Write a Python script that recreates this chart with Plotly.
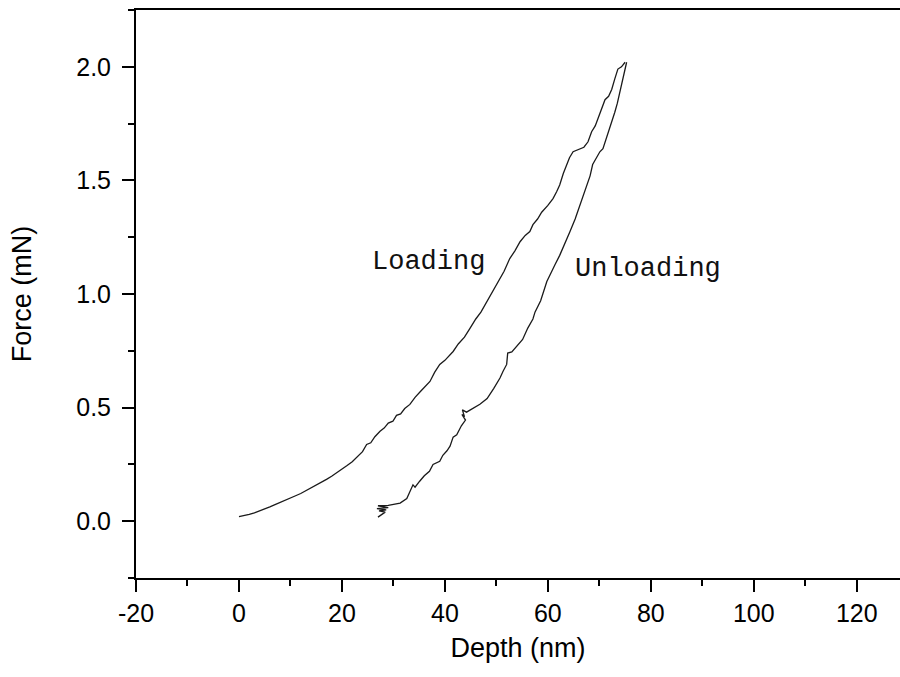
import plotly.graph_objects as go

# Loading curve (depth nm, force mN)
load_depth = [0, 1, 2, 3, 4, 5, 6, 7, 8, 9, 10, 11, 12, 13, 14, 15, 16, 17, 18, 19,
              20, 21, 22, 23, 24, 24.8, 25.6, 26.4, 27.4, 28.2, 29.0, 29.9, 30.6, 31.4,
              32.2, 33.2, 34.2, 35.2, 36.1, 37.1, 38.0, 39.0, 40.0, 40.8, 41.6, 42.6,
              43.8, 44.9, 46.0, 47.0, 48.2, 49.3, 50.3, 51.5, 52.6, 53.6, 54.6, 55.6,
              56.5, 57.1, 58.0, 58.8, 60.0, 61.0, 61.7, 62.3, 63.0, 63.6, 64.2, 64.9,
              66.0, 67.0, 67.8, 68.5, 69.2, 69.7, 70.4, 71.1, 71.8, 72.4, 73.0, 73.6,
              74.3, 75.0]
load_force = [0.020, 0.024, 0.030, 0.037, 0.045, 0.054, 0.063, 0.073, 0.082, 0.091,
              0.100, 0.112, 0.122, 0.134, 0.145, 0.157, 0.170, 0.184, 0.198, 0.213,
              0.228, 0.245, 0.262, 0.284, 0.306, 0.338, 0.345, 0.372, 0.396, 0.410,
              0.432, 0.440, 0.466, 0.472, 0.496, 0.514, 0.545, 0.570, 0.590, 0.615,
              0.655, 0.690, 0.708, 0.730, 0.747, 0.780, 0.810, 0.850, 0.890, 0.920,
              0.967, 1.010, 1.055, 1.100, 1.156, 1.190, 1.230, 1.258, 1.275, 1.305,
              1.330, 1.360, 1.390, 1.420, 1.450, 1.480, 1.530, 1.570, 1.600, 1.626,
              1.636, 1.646, 1.670, 1.714, 1.740, 1.770, 1.810, 1.855, 1.870, 1.900,
              1.947, 1.990, 2.000, 2.020]

# Unloading curve
unload_depth = [75.3, 75.0, 74.6, 74.3, 74.0, 73.5, 73.0, 72.5, 72.0, 71.4, 70.7, 70.1,
                69.4, 68.7, 68.2, 67.6, 66.9, 66.2, 65.3, 64.3, 63.3, 62.3, 61.4, 60.4,
                59.8, 58.6, 57.5, 57.1, 56.1, 55.1, 54.0, 53.0, 52.2, 52.0, 51.3, 50.7,
                49.5, 48.2, 46.8, 45.4, 44.2, 43.4, 43.8, 43.3, 44.0, 43.2, 42.3, 41.6,
                41.0, 40.4, 39.6, 39.0, 37.7, 37.0, 36.0, 35.1, 34.2, 33.8, 33.2, 32.6,
                31.3, 30.0, 29.0, 27.0, 29.0, 26.8, 28.6, 27.2, 28.4, 27.0]
unload_force = [2.020, 1.990, 1.940, 1.910, 1.877, 1.840, 1.800, 1.765, 1.727, 1.690,
                1.640, 1.626, 1.600, 1.570, 1.520, 1.480, 1.430, 1.390, 1.330, 1.275,
                1.220, 1.170, 1.130, 1.085, 1.055, 0.970, 0.920, 0.890, 0.850, 0.800,
                0.770, 0.745, 0.740, 0.690, 0.660, 0.630, 0.585, 0.540, 0.515, 0.497,
                0.480, 0.490, 0.460, 0.470, 0.445, 0.420, 0.380, 0.370, 0.330, 0.310,
                0.290, 0.264, 0.250, 0.220, 0.200, 0.176, 0.150, 0.160, 0.130, 0.100,
                0.080, 0.075, 0.070, 0.068, 0.060, 0.055, 0.050, 0.045, 0.040, 0.018]

labels = ["Loading", "Unloading"]
label_x = [25.4, 64.9]
label_y = [1.143, 1.112]

x_ticks = [-20, 0, 20, 40, 60, 80, 100, 120]
y_ticks = [0.0, 0.5, 1.0, 1.5, 2.0]

fig = go.Figure()
fig.add_trace(go.Scatter(x=load_depth, y=load_force, mode="lines",
                         line=dict(color="#1a1a1a", width=1.3), showlegend=False))
fig.add_trace(go.Scatter(x=unload_depth, y=unload_force, mode="lines",
                         line=dict(color="#1a1a1a", width=1.3), showlegend=False))

for t, x, y in zip(labels, label_x, label_y):
    fig.add_annotation(x=x, y=y, text=t, showarrow=False, xanchor="left", yanchor="middle",
                       font=dict(family="Liberation Mono", size=27, color="#111111"))

axis_font = dict(family="Liberation Sans, Arial", size=25, color="black")
title_font = dict(family="Liberation Sans, Arial", size=27, color="black")
fig.update_layout(
    width=900, height=677,
    margin=dict(l=136, r=0, t=10, b=99),
    paper_bgcolor="white", plot_bgcolor="white",
    xaxis=dict(range=[-20, 128.4], tickvals=x_ticks, ticktext=[str(v) for v in x_ticks],
               ticks="outside", ticklen=12, tickwidth=2, tickcolor="black",
               showline=True, linewidth=2, linecolor="black", mirror=True,
               showgrid=False, zeroline=False, tickfont=axis_font, automargin=False,
               minor=dict(dtick=10, tick0=-20, ticks="outside", ticklen=6, tickwidth=2,
                          tickcolor="black", showgrid=False),
               title=dict(text="Depth (nm)", font=title_font, standoff=12)),
    yaxis=dict(range=[-0.25, 2.25], tickvals=y_ticks, ticktext=["%.1f" % v for v in y_ticks],
               ticks="outside", ticklen=12, tickwidth=2, tickcolor="black",
               showline=True, linewidth=2, linecolor="black", automargin=False,
               showgrid=False, zeroline=False, tickfont=axis_font, ticklabelstandoff=6,
               minor=dict(dtick=0.25, tick0=0, ticks="outside", ticklen=6, tickwidth=2,
                          tickcolor="black", showgrid=False),
               title=dict(text="Force (mN)", font=title_font, standoff=37)),
)

fig.write_html("out.html", config={"displayModeBar": False},
               post_script="document.body.style.margin='0';document.body.style.overflow='hidden';")
